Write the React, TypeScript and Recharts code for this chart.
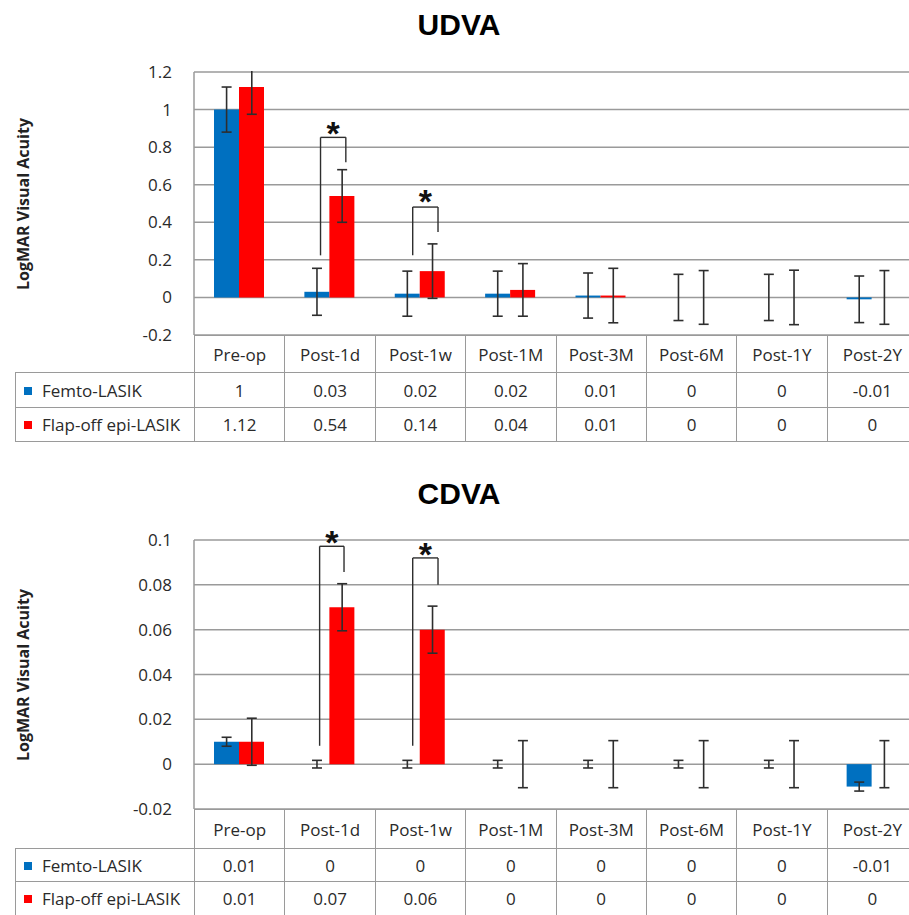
import React from 'react'
import {
  ComposedChart,
  Bar,
  Scatter,
  XAxis,
  YAxis,
  CartesianGrid,
  ErrorBar,
  ReferenceLine,
  ReferenceDot,
} from 'recharts'

const CATEGORIES = ['Pre-op', 'Post-1d', 'Post-1w', 'Post-1M', 'Post-3M', 'Post-6M', 'Post-1Y', 'Post-2Y']
const SERIES_NAMES = ['Femto-LASIK', 'Flap-off epi-LASIK']

// UDVA (means and SD)
const UDVA_FEMTO = [1, 0.03, 0.02, 0.02, 0.01, 0, 0, -0.01]
const UDVA_FEMTO_SD = [0.12, 0.125, 0.12, 0.12, 0.12, 0.123, 0.123, 0.124]
const UDVA_FLAP = [1.12, 0.54, 0.14, 0.04, 0.01, 0, 0, 0]
const UDVA_FLAP_SD = [0.145, 0.14, 0.145, 0.14, 0.145, 0.143, 0.145, 0.143]
const UDVA_TICKS = [-0.2, 0, 0.2, 0.4, 0.6, 0.8, 1, 1.2]
const UDVA_BRACKETS = [
  { x1: 1.4, x2: 1.68, left: 0.224, right: 0.72, top: 0.852, star: 0.914 },
  { x1: 2.42, x2: 2.7, left: 0.224, right: 0.348, top: 0.481, star: 0.551 },
]

// CDVA
const CDVA_FEMTO = [0.01, 0, 0, 0, 0, 0, 0, -0.01]
const CDVA_FEMTO_SD = [0.002, 0.0017, 0.0017, 0.0017, 0.0017, 0.0017, 0.0017, 0.002]
const CDVA_FLAP = [0.01, 0.07, 0.06, 0, 0, 0, 0, 0]
const CDVA_FLAP_SD = [0.0105, 0.0105, 0.0105, 0.0105, 0.0105, 0.0105, 0.0105, 0.0105]
const CDVA_TICKS = [-0.02, 0, 0.02, 0.04, 0.06, 0.08, 0.1]
const CDVA_BRACKETS = [
  { x1: 1.39, x2: 1.66, left: 0.0082, right: 0.0857, top: 0.0972, star: 0.1024 },
  { x1: 2.42, x2: 2.7, left: 0.0082, right: 0.08, top: 0.092, star: 0.0969 },
]

const BLUE = '#0070C0'
const RED = '#FF0000'
const GRID = '#9a9a9a'
const INK = '#2e2e2e'
const TEXT = '#2a2a2a'
const FONT = '"Open Sans", "Noto Sans", sans-serif'

const CHART_W = 930
const PLOT_LEFT = 194
const PLOT_RIGHT = 917
const AXIS_W = 60
const LEGEND_COL = 179
const BAR_GAP = 20

type Bracket = { x1: number; x2: number; left: number; right: number; top: number; star: number }

function Star(props: { cx?: number; cy?: number }) {
  const fs = 34
  return (
    <text
      x={props.cx}
      y={(props.cy ?? 0) + fs * 0.57}
      textAnchor="middle"
      fontSize={fs}
      fontWeight="bold"
      fontFamily='"Liberation Sans", Arial, sans-serif'
      fill="#111"
    >
      *
    </text>
  )
}

const NoDot = () => <g />

interface PanelProps {
  title: string
  titleTop: number
  chartTop: number
  plotTop: number
  plotBottom: number
  domain: [number, number]
  ticks: number[]
  femto: number[]
  femtoSd: number[]
  flap: number[]
  flapSd: number[]
  brackets: Bracket[]
  rowHeights: number[]
  maskTop?: boolean
}

function Panel(p: PanelProps) {
  const chartH = p.plotBottom - p.chartTop + 26
  const colW = (PLOT_RIGHT - PLOT_LEFT) / CATEGORIES.length
  const barW = (colW - 2 * BAR_GAP) / 2
  // bar centres in category units, used by the error-bar series
  const blueCentre = (BAR_GAP + barW / 2) / colW
  const redCentre = (BAR_GAP + barW * 1.5) / colW

  const data = CATEGORIES.map((name, i) => ({ name, femto: p.femto[i], flap: p.flap[i] }))
  const femtoErr = CATEGORIES.map((_, i) => ({ x: i + blueCentre, y: p.femto[i], err: p.femtoSd[i] }))
  const flapErr = CATEGORIES.map((_, i) => ({ x: i + redCentre, y: p.flap[i], err: p.flapSd[i] }))

  const border = `1.5px solid ${GRID}`
  const cell: React.CSSProperties = {
    border,
    padding: 0,
    textAlign: 'center',
    verticalAlign: 'middle',
    fontSize: 17,
    color: TEXT,
    whiteSpace: 'nowrap',
  }
  const rows = [
    { name: SERIES_NAMES[0], color: BLUE, values: p.femto },
    { name: SERIES_NAMES[1], color: RED, values: p.flap },
  ]

  return (
    <>
      <div
        style={{
          position: 'absolute',
          left: 0,
          width: 918,
          top: p.titleTop,
          textAlign: 'center',
          fontFamily: '"Liberation Sans", Arial, sans-serif',
          fontWeight: 'bold',
          fontSize: 30,
          lineHeight: '30px',
          color: '#000',
        }}
      >
        {p.title}
      </div>
      <div
        style={{
          position: 'absolute',
          left: 23,
          top: (p.plotTop + p.plotBottom) / 2,
          transform: 'translate(-50%, -50%) rotate(-90deg)',
          whiteSpace: 'nowrap',
          fontWeight: 'bold',
          fontSize: 16,
          color: '#222',
        }}
      >
        LogMAR Visual Acuity
      </div>
      <div style={{ position: 'absolute', left: 0, top: p.chartTop }}>
        <ComposedChart
          width={CHART_W}
          height={chartH}
          data={data}
          barCategoryGap={BAR_GAP}
          barGap={0}
          margin={{
            top: p.plotTop - p.chartTop,
            right: CHART_W - PLOT_RIGHT,
            bottom: chartH - (p.plotBottom - p.chartTop),
            left: PLOT_LEFT - AXIS_W,
          }}
        >
          <CartesianGrid vertical={false} stroke={GRID} strokeWidth={1.5} />
          <XAxis dataKey="name" hide />
          <XAxis
            xAxisId="num"
            dataKey="x"
            type="number"
            domain={[0, CATEGORIES.length]}
            allowDataOverflow
            hide
          />
          <YAxis
            type="number"
            domain={p.domain}
            ticks={p.ticks}
            interval={0}
            allowDataOverflow
            width={AXIS_W}
            tickLine={false}
            tickSize={0}
            tickMargin={22}
            axisLine={{ stroke: GRID, strokeWidth: 1.5 }}
            tick={{ fontSize: 17, fill: TEXT, fontFamily: FONT }}
          />
          <Bar dataKey="femto" fill={BLUE} isAnimationActive={false} />
          <Bar dataKey="flap" fill={RED} isAnimationActive={false} />
          <Scatter data={femtoErr} dataKey="y" xAxisId="num" shape={NoDot} isAnimationActive={false}>
            <ErrorBar dataKey="err" direction="y" width={5} stroke={INK} strokeWidth={1.6} />
          </Scatter>
          <Scatter data={flapErr} dataKey="y" xAxisId="num" shape={NoDot} isAnimationActive={false}>
            <ErrorBar dataKey="err" direction="y" width={5} stroke={INK} strokeWidth={1.6} />
          </Scatter>
          {p.brackets.map((b, i) => [
            <ReferenceLine
              key={`l${i}`}
              xAxisId="num"
              ifOverflow="visible"
              segment={[{ x: b.x1, y: b.left }, { x: b.x1, y: b.top }]}
              stroke={INK}
              strokeWidth={1.4}
            />,
            <ReferenceLine
              key={`t${i}`}
              xAxisId="num"
              ifOverflow="visible"
              segment={[{ x: b.x1, y: b.top }, { x: b.x2, y: b.top }]}
              stroke={INK}
              strokeWidth={1.4}
            />,
            <ReferenceLine
              key={`r${i}`}
              xAxisId="num"
              ifOverflow="visible"
              segment={[{ x: b.x2, y: b.top }, { x: b.x2, y: b.right }]}
              stroke={INK}
              strokeWidth={1.4}
            />,
            <ReferenceDot
              key={`s${i}`}
              xAxisId="num"
              x={(b.x1 + b.x2) / 2}
              y={b.star}
              ifOverflow="visible"
              shape={(sp: any) => <Star cx={sp.cx} cy={sp.cy} />}
            />,
          ])}
        </ComposedChart>
      </div>
      {p.maskTop && (
        // error bars that run past the top of the axis are cut off at the plot edge
        <div
          style={{
            position: 'absolute',
            left: PLOT_LEFT - 5,
            top: p.plotTop - 26,
            width: PLOT_RIGHT - PLOT_LEFT + 10,
            height: 25,
            background: '#fff',
          }}
        />
      )}
      <table
        style={{
          position: 'absolute',
          left: PLOT_LEFT - LEGEND_COL,
          top: p.plotBottom,
          borderCollapse: 'collapse',
          tableLayout: 'fixed',
          width: LEGEND_COL + colW * CATEGORIES.length,
          fontFamily: FONT,
        }}
      >
        <colgroup>
          <col style={{ width: LEGEND_COL }} />
          {CATEGORIES.map((c) => (
            <col key={c} style={{ width: colW }} />
          ))}
        </colgroup>
        <tbody>
          <tr style={{ height: p.rowHeights[0] }}>
            <td style={{ ...cell, border: 'none' }} />
            {CATEGORIES.map((c) => (
              <td key={c} style={cell}>
                {c}
              </td>
            ))}
          </tr>
          {rows.map((r, ri) => (
            <tr key={r.name} style={{ height: p.rowHeights[ri + 1] }}>
              <td style={{ ...cell, textAlign: 'left', paddingLeft: 8 }}>
                <span
                  style={{
                    display: 'inline-block',
                    width: 8,
                    height: 8,
                    background: r.color,
                    marginRight: 10,
                    verticalAlign: 'middle',
                    position: 'relative',
                    top: -1,
                  }}
                />
                {r.name}
              </td>
              {r.values.map((v, i) => (
                <td key={i} style={cell}>
                  {String(v)}
                </td>
              ))}
            </tr>
          ))}
        </tbody>
      </table>
    </>
  )
}

export default function App() {
  return (
    <div
      style={{
        position: 'absolute',
        left: 0,
        top: 0,
        width: 909,
        height: 915,
        overflow: 'hidden',
        background: '#fff',
        fontFamily: FONT,
      }}
    >
      <Panel
        title="UDVA"
        titleTop={10}
        chartTop={0}
        plotTop={72}
        plotBottom={335}
        domain={[-0.2, 1.2]}
        ticks={UDVA_TICKS}
        femto={UDVA_FEMTO}
        femtoSd={UDVA_FEMTO_SD}
        flap={UDVA_FLAP}
        flapSd={UDVA_FLAP_SD}
        brackets={UDVA_BRACKETS}
        rowHeights={[37, 35, 34]}
        maskTop
      />
      <Panel
        title="CDVA"
        titleTop={479}
        chartTop={460}
        plotTop={540}
        plotBottom={809}
        domain={[-0.02, 0.1]}
        ticks={CDVA_TICKS}
        femto={CDVA_FEMTO}
        femtoSd={CDVA_FEMTO_SD}
        flap={CDVA_FLAP}
        flapSd={CDVA_FLAP_SD}
        brackets={CDVA_BRACKETS}
        rowHeights={[39, 33, 34]}
      />
    </div>
  )
}
